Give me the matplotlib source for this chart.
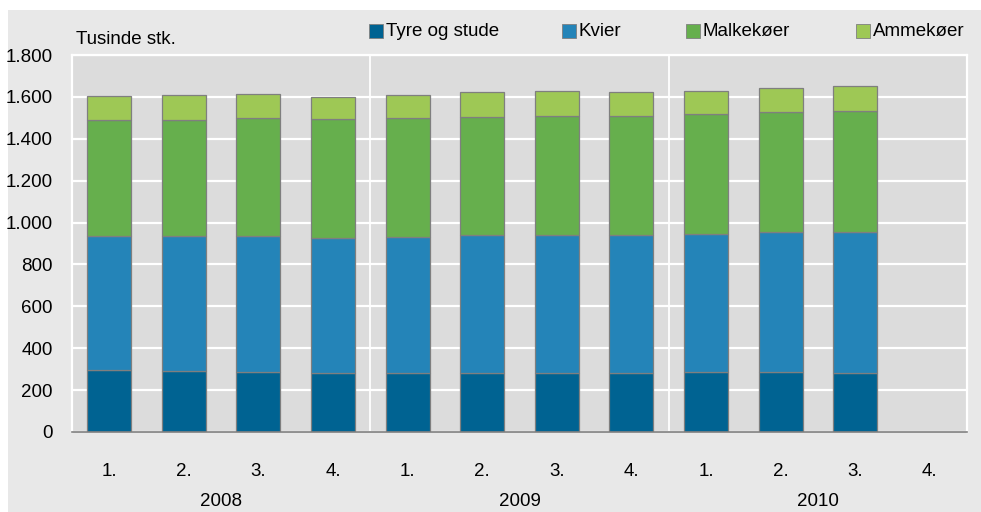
import matplotlib.pyplot as plt
import matplotlib.patches as mpatches
import numpy as np

plt.rcParams['font.family'] = ['Liberation Sans', 'DejaVu Sans']

# Data (tusinde stk.), kvartaler 2008-2010 (2010 4. kvartal mangler)
years = ['2008', '2009', '2010']
quarter_labels = ['1.', '2.', '3.', '4.'] * 3
tyre = [296, 290, 287, 284, 284, 284, 284, 280, 285, 287, 284]
kvier = [639, 648, 649, 643, 646, 655, 657, 659, 661, 670, 673]
malkekoer = [554, 552, 561, 566, 567, 566, 570, 572, 573, 573, 578]
ammekoer = [114, 118, 116, 107, 110, 116, 116, 110, 107, 111, 115]

series_names = ['Tyre og stude', 'Kvier', 'Malkekøer', 'Ammekøer']
colors = ['#006392', '#2484b8', '#66af4d', '#9ec855']
yticks = [0, 200, 400, 600, 800, 1000, 1200, 1400, 1600, 1800]
ytick_labels = ['0', '200', '400', '600', '800', '1.000', '1.200', '1.400', '1.600', '1.800']

FS = 13.5

fig = plt.figure(figsize=(9.81, 5.12), dpi=100)
fig.patch.set_facecolor('white')
# outer grey panel
fig.patches.append(mpatches.Rectangle((8 / 981, 0), 1, 1 - 10 / 512, transform=fig.transFigure,
                                      facecolor='#e8e8e8', edgecolor='none', zorder=-5))

ax = fig.add_axes([72 / 981, 80 / 512, 895 / 981, 377 / 512])
ax.set_zorder(2)
ax.set_facecolor('#dcdcdc')

n_slots = len(quarter_labels)
x = np.arange(len(tyre))
bottom = np.zeros(len(tyre))
for vals, col in zip([tyre, kvier, malkekoer, ammekoer], colors):
    ax.bar(x, vals, width=0.59, bottom=bottom, color=col, edgecolor='#7f7f7f',
           linewidth=0.9, zorder=3)
    bottom += np.array(vals)

ax.set_xlim(-0.5, n_slots - 0.5)
ax.set_ylim(0, 1800)
ax.set_yticks(yticks)
ax.set_yticklabels(ytick_labels, fontsize=FS)
ax.set_xticks(np.arange(n_slots))
ax.set_xticklabels(quarter_labels, fontsize=FS)
ax.tick_params(axis='both', length=0)
ax.tick_params(axis='y', pad=14)
ax.tick_params(axis='x', pad=22)

ax.grid(axis='y', color='white', linewidth=1.6, zorder=1)
ax.set_axisbelow(True)
for sep in [3.5, 7.5]:
    ax.axvline(sep, color='white', linewidth=1.3, zorder=1)

for side in ['top', 'left', 'right']:
    ax.spines[side].set_color('white')
    ax.spines[side].set_linewidth(1.6)
ax.spines['bottom'].set_color('#808080')
ax.spines['bottom'].set_linewidth(1.2)
ax.spines['bottom'].set_zorder(4)

for i, yr in enumerate(years):
    ax.text(i * 4 + 1.5, -0.185, yr, transform=ax.get_xaxis_transform(),
            ha='center', va='center', fontsize=FS)

fig.text(76 / 981, 1 - 40 / 512, 'Tusinde stk.', ha='left', va='center', fontsize=FS)

# legend along the top
leg_x = [369, 562, 686, 856]
for lx, name, col in zip(leg_x, series_names, colors):
    fig.patches.append(mpatches.Rectangle((lx / 981, 1 - 38 / 512), 14 / 981, 14 / 512,
                                          transform=fig.transFigure, facecolor=col,
                                          edgecolor='#7f7f7f', linewidth=0.6, zorder=2))
    fig.text((lx + 17) / 981, 1 - 31 / 512, name, ha='left', va='center', fontsize=FS)

fig.savefig('out.png', dpi=100)
